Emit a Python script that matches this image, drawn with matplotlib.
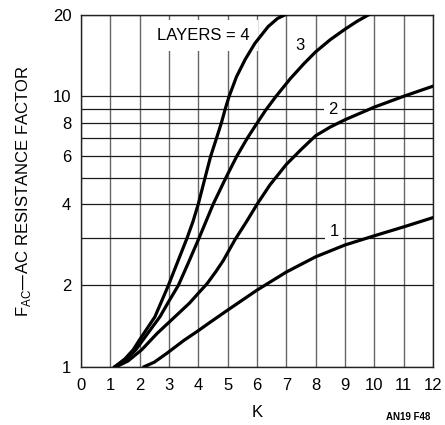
import matplotlib
matplotlib.use('Agg')
from matplotlib import pyplot as plt
from matplotlib.ticker import FixedLocator, NullFormatter

plt.rcParams['font.family'] = ['Liberation Sans', 'DejaVu Sans']

# values (K, F_AC)
k_layer1 = [2.15, 2.5, 2.92, 3.5, 4.0, 4.4, 5, 6, 7, 8, 9, 10, 11, 12]
f_layer1 = [1.0, 1.04, 1.12, 1.25, 1.36, 1.46, 1.62, 1.92, 2.24, 2.55, 2.82, 3.05, 3.29, 3.56]

k_layer2 = [1.2, 1.6, 2.07, 2.6, 3.2, 3.7, 4.0, 4.3, 4.6, 4.85, 5.25, 5.65, 6.01, 6.44, 7.0,
            7.5, 8.0, 8.5, 9.0, 10.0, 11.0, 12.0]
f_layer2 = [1.0, 1.05, 1.156, 1.33, 1.53, 1.72, 1.87, 2.03, 2.25, 2.47, 2.95, 3.45, 4.0, 4.7,
            5.6, 6.35, 7.15, 7.7, 8.19, 9.12, 10.0, 10.9]

k_layer3 = [1.15, 1.5, 1.87, 2.3, 2.69, 3.0, 3.32, 3.65, 4.03, 4.51, 4.94, 5.31, 5.67, 5.95,
            6.3, 6.65, 7.13, 7.6, 8.0, 8.5, 9.0, 9.4, 9.8]
f_layer3 = [1.0, 1.05, 1.156, 1.34, 1.53, 1.75, 2.0, 2.41, 3.0, 4.0, 5.0, 6.0, 7.0, 7.8,
            8.9, 10.0, 11.6, 13.2, 14.6, 16.2, 17.7, 18.9, 20.0]

k_layer4 = [1.15, 1.5, 1.78, 2.0, 2.52, 2.98, 3.3, 3.62, 3.82, 4.0, 4.23, 4.42, 4.62, 4.79,
            4.92, 5.05, 5.3, 5.6, 5.93, 6.38, 6.7, 6.95]
f_layer4 = [1.0, 1.07, 1.156, 1.26, 1.53, 2.0, 2.45, 3.0, 3.45, 4.0, 5.0, 6.0, 7.0, 8.0,
            9.0, 10.0, 11.8, 13.7, 15.7, 18.1, 19.4, 20.0]

x_ticks = list(range(0, 13))
y_ticks = [1, 2, 4, 6, 8, 10, 20]
y_grid = [1, 2, 3, 4, 5, 6, 7, 8, 9, 10, 20]

fig = plt.figure(figsize=(4.45, 4.25), dpi=100)
ax = fig.add_axes([0.182, 0.137, 0.791, 0.828])

ax.set_yscale('log')
ax.set_xlim(0, 12)
ax.set_ylim(1, 20)

for x in x_ticks:
    ax.axvline(x, color='#666666', lw=1.0, zorder=1)
for y in y_grid:
    ax.axhline(y, color='#1a1a1a', lw=0.9, zorder=1)

for kk, ff in [(k_layer1, f_layer1), (k_layer2, f_layer2),
               (k_layer3, f_layer3), (k_layer4, f_layer4)]:
    ax.plot(kk, ff, color='black', lw=2.3, solid_joinstyle='round', zorder=3)

ax.xaxis.set_major_locator(FixedLocator(x_ticks))
ax.set_xticklabels([str(x) for x in x_ticks])
ax.yaxis.set_major_locator(FixedLocator(y_ticks))
ax.yaxis.set_minor_locator(FixedLocator([]))
ax.yaxis.set_minor_formatter(NullFormatter())
ax.set_yticklabels([str(y) for y in y_ticks])
ax.tick_params(axis='x', length=0, labelsize=12, pad=8)
ax.tick_params(axis='y', length=0, labelsize=12, pad=7)

for s in ax.spines.values():
    s.set_color('#222222')
    s.set_linewidth(1.0)

ax.text(4.16, 16.8, 'LAYERS = 4', fontsize=12, ha='center', va='center',
        bbox=dict(facecolor='white', edgecolor='none', pad=6), zorder=2)
small_box = dict(facecolor='white', edgecolor='none', pad=3)
ax.text(7.47, 15.4, '3', fontsize=12, ha='center', va='center', zorder=2)
ax.text(8.59, 8.9, '2', fontsize=12, ha='center', va='center', bbox=small_box, zorder=2)
ax.text(8.63, 3.16, '1', fontsize=12, ha='center', va='center', bbox=small_box, zorder=2)

ax.set_xlabel('K', fontsize=12, labelpad=9)
ax.set_ylabel('F$_{\\mathregular{AC}}$\u2014AC RESISTANCE FACTOR', fontsize=12, labelpad=14)

fig.text(0.968, 0.018, 'AN19 F48', fontsize=7, fontweight='bold', ha='right', va='center')

fig.savefig('out.png', dpi=100)
